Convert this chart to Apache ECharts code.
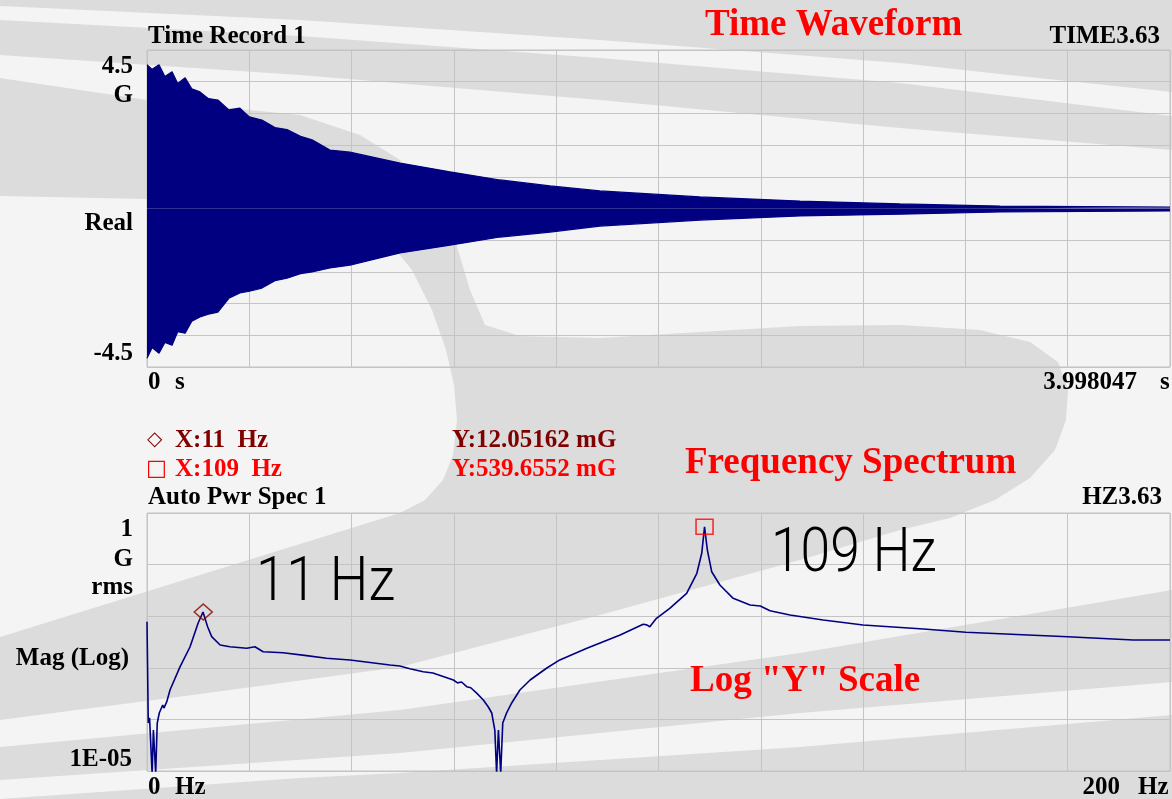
<!DOCTYPE html>
<html><head><meta charset="utf-8">
<script src="https://cdn.jsdelivr.net/npm/echarts@6/dist/echarts.min.js"></script>
<style>html,body{margin:0;padding:0;background:#f4f4f4}#c{width:1172px;height:799px}</style>
</head><body><div id="c"></div><script>
// ---------- data ----------
const timeTicks = ['0', 's', '3.998047', 's'];
const timeYTicks = ['4.5', 'G', 'Real', '-4.5'];
const freqTicks = ['0', 'Hz', '200', 'Hz'];
const freqYTicks = ['1', 'G', 'rms', 'Mag (Log)', '1E-05'];

// decaying time record: upper / lower envelope (G)
const waveTime  = [0.000, 0.020, 0.047, 0.070, 0.098, 0.120, 0.149, 0.175, 0.207, 0.240, 0.277, 0.320, 0.363, 0.400, 0.449, 0.500, 0.547, 0.600, 0.645, 0.715, 0.793, 0.989, 1.184, 1.380, 1.575, 1.770, 2.161, 2.552, 2.943, 3.334, 3.998];
const waveUpper = [4.08, 3.95, 4.08, 3.75, 3.88, 3.55, 3.71, 3.40, 3.31, 3.12, 3.08, 2.80, 2.85, 2.60, 2.51, 2.30, 2.24, 2.05, 1.95, 1.66, 1.60, 1.29, 1.04, 0.81, 0.64, 0.50, 0.33, 0.21, 0.13, 0.07, 0.04];
const waveLower = [-4.25, -3.95, -4.11, -3.80, -3.88, -3.50, -3.54, -3.20, -3.08, -3.00, -2.94, -2.55, -2.40, -2.35, -2.26, -2.05, -1.98, -1.85, -1.80, -1.69, -1.61, -1.26, -1.04, -0.81, -0.67, -0.50, -0.33, -0.21, -0.16, -0.10, -0.07];

// auto power spectrum (G rms)
const specFreq = [0, 0.25, 0.5, 1.0, 1.25, 1.7, 2.0, 2.4, 3.07, 3.3, 3.85, 4.5, 6.45, 8.4, 10.0, 10.95, 11.3, 11.85, 12.65, 14.3, 16.2, 19.5, 21.1, 22.7, 26.6, 31.2, 35.1, 39.7, 47.5, 49.4, 51.4, 54.0, 55.9, 57.9, 59.9, 60.7, 61.5, 62.5, 63.3, 64.5, 65.75, 66.7, 67.4, 68.0, 68.35, 68.7, 69.15, 69.55, 70.3, 71.3, 72.9, 74.9, 78.1, 80.7, 86.0, 92.5, 97.0, 97.7, 98.3, 99.6, 102.2, 105.5, 107.5, 108.45, 109.0, 109.55, 110.4, 112.0, 114.6, 117.9, 119.9, 121.8, 125.7, 132.2, 140.0, 151.8, 160.1, 180.0, 192.8, 200.0];
const specMag  = [7.8e-3, 8.5e-5, 1.07e-4, 9e-6, 6.2e-5, 9e-6, 8.5e-5, 1.33e-4, 1.9e-4, 1.66e-4, 2.18e-4, 3.71e-4, 1.04e-3, 2.53e-3, 7.38e-3, 0.01205162, 0.0115, 6.26e-3, 4.01e-3, 2.77e-3, 2.56e-3, 2.39e-3, 2.56e-3, 2.05e-3, 1.96e-3, 1.72e-3, 1.53e-3, 1.42e-3, 1.13e-3, 1.08e-3, 9.6e-4, 8.4e-4, 7.9e-4, 6.8e-4, 5.8e-4, 5.1e-4, 5.3e-4, 4.3e-4, 4.1e-4, 3.2e-4, 2.38e-4, 1.76e-4, 1.33e-4, 6.2e-5, 9e-6, 6.2e-5, 9e-6, 8.5e-5, 1.33e-4, 2.08e-4, 3.71e-4, 5.8e-4, 9.8e-4, 1.42e-3, 2.39e-3, 4.32e-3, 6.97e-3, 6.8e-3, 6.26e-3, 9.1e-3, 0.01422, 0.0278, 0.0678, 0.1656, 0.5396552, 0.192, 0.0728, 0.0402, 0.0222, 0.0165, 0.0158, 0.0128, 0.01055, 8.44e-3, 6.75e-3, 5.65e-3, 4.88e-3, 4.0e-3, 3.46e-3, 3.46e-3];

// cursors
const markerFreq = [11, 109];
const markerMag = [0.01205162, 0.5396552];
const markerLabelX = ['X:11  Hz', 'X:109  Hz'];
const markerLabelY = ['Y:12.05162 mG', 'Y:539.6552 mG'];

// ---------- chart ----------
const chart = echarts.init(document.getElementById('c'));
const serif = "'Liberation Serif','Times New Roman',serif";
const navy = '#000080';
const gridCol = '#c4c4c4';
function T(text, x, y, o) {
  o = o || {};
  return {type: 'text', z: 50, x: x, y: y, scaleX: o.scaleX || 1, silent: true,
    style: {text: text, x: 0, y: 0, fill: o.color || '#000', font: o.font || ('bold 25px ' + serif),
      textAlign: o.align || 'left', textVerticalAlign: 'middle'}};
}
const grey = '#dcdcdc';
function P(points, smooth) {
  return {type: 'polygon', z: -100, silent: true, shape: {points: points, smooth: smooth || 0}, style: {fill: grey}};
}
// decorative swoosh background
const bg = [
  P([[0,0],[1172,0],[1172,92],[1000,74],[900,63],[600,40],[300,20],[0,6]]),
  P([[0,20],[300,36],[600,58],[900,83],[1172,116],[1172,150],[900,128],[600,100],[300,75],[0,55]]),
  P([[0,78],[147,100],[300,115],[360,135],[400,160],[430,195],[455,240],[470,290],[485,325],[520,336],[600,338],[700,332],[800,326],[900,325],[980,330],[1030,342],[1058,362],[1068,390],[1066,420],[1055,450],[1030,478],[995,500],[950,518],[900,530],[800,560],[600,615],[400,667],[200,694],[0,720],
     [0,637],[200,575],[400,513],[425,500],[443,480],[453,455],[457,420],[454,385],[446,350],[432,310],[412,270],[385,237],[350,212],[300,202],[200,199],[147,199],[0,196]]),
  P([[0,747],[400,710],[800,653],[1172,590],[1172,682],[800,713],[400,753],[0,780]]),
  P([[0,799],[300,778],[400,773],[800,747],[1172,715],[1172,799]])
];

const texts = [
  T('Time Record 1', 148, 37),
  T('TIME3.63', 1160, 37, {align: 'right'}),
  T('Time Waveform', 705, 25, {color: '#ff0000', font: 'bold 37px ' + serif}),
  T(timeYTicks[0], 133, 67, {align: 'right'}),
  T(timeYTicks[1], 133, 96, {align: 'right'}),
  T(timeYTicks[2], 133, 224, {align: 'right'}),
  T(timeYTicks[3], 133, 354, {align: 'right'}),
  T(timeTicks[0], 148, 383),
  T(timeTicks[1], 175, 383),
  T(timeTicks[2], 1137, 383, {align: 'right'}),
  T(timeTicks[3], 1160, 383),
  T('\u25C7', 147, 440, {color: '#800000', font: '20px DejaVu Sans'}),
  T(markerLabelX[0], 175, 441, {color: '#800000'}),
  T(markerLabelY[0], 452, 441, {color: '#800000'}),
  T('\u25A1', 146, 469, {color: '#ff0000', font: '22px DejaVu Sans'}),
  T(markerLabelX[1], 175, 470, {color: '#ff0000'}),
  T(markerLabelY[1], 452, 470, {color: '#ff0000'}),
  T('Frequency Spectrum', 685, 463, {color: '#ff0000', font: 'bold 37px ' + serif}),
  T('Auto Pwr Spec 1', 148, 498),
  T('HZ3.63', 1162, 498, {align: 'right'}),
  T(freqYTicks[0], 133, 530, {align: 'right'}),
  T(freqYTicks[1], 133, 560, {align: 'right'}),
  T(freqYTicks[2], 133, 588, {align: 'right'}),
  T(freqYTicks[3], 129, 659, {align: 'right'}),
  T(freqYTicks[4], 132, 760, {align: 'right'}),
  T(freqTicks[0], 148, 788),
  T(freqTicks[1], 175, 788),
  T(freqTicks[2], 1120, 788, {align: 'right'}),
  T(freqTicks[3], 1138, 788),
  T('11 Hz', 256, 584, {font: '300 62px Roboto', scaleX: 0.88}),
  T('109 Hz', 771, 555, {font: '300 62px Roboto', scaleX: 0.86}),
  T('Log "Y" Scale', 690, 681, {color: '#ff0000', font: 'bold 37px ' + serif})
];

const splitStyle = {show: true, lineStyle: {color: gridCol, width: 1}};
chart.setOption({
  animation: false,
  backgroundColor: '#f4f4f4',
  graphic: bg.concat(texts),
  grid: [
    {left: 147, top: 50, width: 1023, height: 317, show: true, borderColor: gridCol, borderWidth: 1, backgroundColor: 'transparent'},
    {left: 147, top: 513, width: 1023, height: 258, show: true, borderColor: gridCol, borderWidth: 1, backgroundColor: 'transparent'}
  ],
  xAxis: [
    {gridIndex: 0, type: 'value', min: 0, max: 3.998047, interval: 0.3998047, axisLabel: {show: false}, axisTick: {show: false}, axisLine: {show: false}, splitLine: splitStyle},
    {gridIndex: 1, type: 'value', min: 0, max: 200, interval: 20, axisLabel: {show: false}, axisTick: {show: false}, axisLine: {show: false}, splitLine: splitStyle}
  ],
  yAxis: [
    {gridIndex: 0, type: 'value', min: -4.5, max: 4.5, interval: 0.9, axisLabel: {show: false}, axisTick: {show: false}, axisLine: {show: false}, splitLine: splitStyle},
    {gridIndex: 1, type: 'log', logBase: 10, min: 1e-5, max: 1, axisLabel: {show: false}, axisTick: {show: false}, axisLine: {show: false}, splitLine: splitStyle}
  ],
  series: [
    {type: 'line', xAxisIndex: 0, yAxisIndex: 0, symbol: 'none', silent: true,
     data: waveTime.map((t, i) => [t, waveUpper[i]]),
     lineStyle: {color: navy, width: 1.2}, areaStyle: {color: navy, opacity: 1}},
    {type: 'line', xAxisIndex: 0, yAxisIndex: 0, symbol: 'none', silent: true,
     data: waveTime.map((t, i) => [t, waveLower[i]]),
     lineStyle: {color: navy, width: 1.2}, areaStyle: {color: navy, opacity: 1}},
    {type: 'line', xAxisIndex: 1, yAxisIndex: 1, symbol: 'none', silent: true,
     data: specFreq.map((f, i) => [f, specMag[i]]),
     lineStyle: {color: navy, width: 1.6}},
    {type: 'scatter', xAxisIndex: 1, yAxisIndex: 1, silent: true, z: 5,
     data: [
       {value: [markerFreq[0], markerMag[0]], symbol: 'diamond', symbolSize: [18, 16], itemStyle: {color: 'none', borderColor: '#8b0000', borderWidth: 1.5}},
       {value: [markerFreq[1], markerMag[1]], symbol: 'rect', symbolSize: [17, 15], itemStyle: {color: 'none', borderColor: '#ff0000', borderWidth: 1.5}}
     ]}
  ]
});
</script></body></html>
